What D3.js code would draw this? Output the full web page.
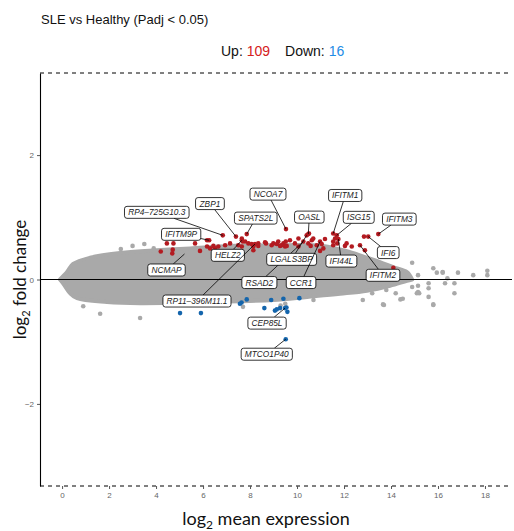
<!DOCTYPE html>
<meta charset="UTF-8">
<style>
    body { margin: 0; background: #fff; }
    svg text { font-family: "Liberation Sans", Arial, sans-serif; }
    .axis-title { font-family: Lato, "Open Sans", sans-serif; font-size: 17px; fill: #111; }
    .tick text { font-size: 8px; fill: #666; }
    .tick line { stroke: #555; }
    .lab text { font-size: 8.3px; font-style: italic; fill: #222; }
</style>
<body>
<div id="chart"></div>
<script src="https://d3js.org/d3.v7.min.js"></script>
<script>

// ---- data (log2 mean expression, log2 fold change) ----
var upGenes = [
    [4.20,0.45],[4.46,0.58],[4.71,0.48],[4.69,0.42],[4.74,0.58],[5.66,0.58],[5.87,0.46],
    [6.17,0.63],[6.17,0.53],[6.30,0.50],[6.51,0.50],[6.65,0.53],[6.94,0.55],[7.15,0.58],
    [7.65,0.66],[7.69,0.61],[7.50,0.55],[7.93,0.58],[7.65,0.53],[8.14,0.53],[8.35,0.58],
    [8.14,0.47],[8.68,0.58],[8.99,0.58],[9.20,0.61],[9.42,0.58],[9.70,0.63],[9.91,0.58],
    [10.06,0.66],[10.51,0.74],[8.92,0.55],[9.35,0.55],[9.49,0.53],[10.48,0.58],[10.63,0.63],
    [10.69,0.66],[10.58,0.54],[10.06,0.53],[10.84,0.55],[11.05,0.57],[11.19,0.65],[11.12,0.50],
    [10.98,0.46],[11.62,0.66],[11.71,0.58],[11.54,0.55],[12.11,0.58],[12.33,0.53],[12.89,0.47],
    [12.85,0.69],[14.10,0.19],[6.44,0.54],[7.79,0.61],[8.07,0.57],[8.35,0.54],[9.14,0.57],
    [9.28,0.54],[9.52,0.61],[9.56,0.54],[12.04,0.54],[8.64,0.60],[11.54,0.61]
];

var downGenes = [
    [5.02,-0.54],[5.91,-0.54],[7.64,-0.37],[7.86,-0.32],[7.57,-0.39],[8.61,-0.46],[9.06,-0.50],
    [9.14,-0.48],[9.28,-0.46],[9.55,-0.45],[9.59,-0.52],[10.10,-0.30],[9.42,-0.31],[8.90,-0.33]
];

// non-significant genes: dense cloud outline + scattered points
var cloudTop = [
    [-0.09,0],[0.21,0.12],[0.47,0.25],[1.19,0.35],[2.6,0.43],[4.04,0.47],[5.45,0.50],[7.15,0.54],
    [8.98,0.55],[11.1,0.54],[12.26,0.44],[12.98,0.35],[13.53,0.28],[14.09,0.20],[14.68,0.12],[14.9,0]
];
var cloudBottom = [
    [-0.09,0],[0.04,-0.06],[0.34,-0.22],[0.64,-0.30],[1.91,-0.36],[3.32,-0.38],[6.17,-0.36],
    [8.98,-0.33],[10.43,-0.28],[11.83,-0.23],[12.98,-0.18],[13.96,-0.10],[14.68,-0.02],[14.9,0]
];
var otherGenes = [
    [1.62,-0.55],[3.32,-0.62],[10.7,-0.33],[13.66,-0.40],[14.4,-0.32],[15.2,-0.22],[15.8,-0.40],
    [16.7,-0.22],[16.7,-0.06],[16.2,0.12],[17.5,0.07],[18.1,0.07],[15.15,0.07],[15.6,-0.06],
    [15.15,-0.10],[13.8,-0.17],[14.2,-0.22],[13.2,-0.22],[12.8,-0.33],[9.5,-0.39],[9.3,-0.42],
    [7.7,-0.44],[0.9,-0.43],[10.0,-0.28],[14.9,0.27],[15.8,0.18],[15.95,0.11],[16.2,0.11],
    [16.85,0.11],[18.1,0.14],[16.4,0.02],[16.3,-0.06],[15.6,-0.14],[15.6,-0.28],[15.15,-0.2],
    [14.9,-0.12],[14.5,-0.31],[13.7,-0.41],[15.8,-0.41],[15.1,-0.22],[3.5,0.57],[3.0,0.54],
    [3.9,0.50],[2.5,0.49]
];

// labelled genes
var labelNames = ["RP4–725G10.3","ZBP1","NCOA7","SPATS2L","IFITM9P","HELZ2","NCMAP","RP11–396M11.1",
    "RSAD2","LGALS3BP","OASL","CCR1","IFITM1","ISG15","IFITM3","IFI44L","IFI6","IFITM2","CEP85L","MTCO1P40"];
var labelX = [6.84,7.40,9.53,7.86,6.26,7.65,5.21,8.21,10.27,10.41,10.48,10.98,11.54,11.69,13.46,11.76,13.03,12.68,9.49,9.52];
var labelY = [0.71,0.69,0.81,0.73,0.63,0.63,0.41,0.57,0.61,0.71,0.73,0.61,0.74,0.71,0.73,0.65,0.69,0.55,-0.46,-0.96];
var labelGroup = ["up","up","up","up","up","up","ns","up","up","up","up","up","up","up","up","up","up","up","down","down"];

var nUp = 109, nDown = 16;
var xTicks = [0, 2, 4, 6, 8, 10, 12, 14, 16, 18];
var yTicks = [-2, 0, 2];

// ---- layout (label box offsets from their point, in px) ----
var labelNudge = {
    "RP4–725G10.3": [-66, -23], "ZBP1": [-26, -33], "NCOA7": [-18, -35], "SPATS2L": [9, -16],
    "IFITM9P": [-28, -6], "HELZ2": [-14, 15], "NCMAP": [-18, 16], "RP11–396M11.1": [-58, 57],
    "RSAD2": [-44, 41], "LGALS3BP": [-15, 24], "OASL": [1, -17], "CCR1": [-19, 41],
    "IFITM1": [12, -38], "ISG15": [22, -18], "IFITM3": [21, -15], "IFI44L": [3, 22],
    "IFI6": [20, 16], "IFITM2": [23, 30], "CEP85L": [-18, 15], "MTCO1P40": [-19, 15]
};

var colors = { up: "#b31b21", down: "#1465ac", ns: "#a9a9a9" };

var W = 514, H = 531;
var svg = d3.select("#chart").append("svg")
    .attr("width", W)
    .attr("height", H);

var x = d3.scaleLinear().domain([-0.94, 19.15]).range([40, 512]);
var y = d3.scaleLinear().domain([-3.32, 3.32]).range([486, 73]);

// title + subtitle
svg.append("text")
    .attr("x", 41).attr("y", 24)
    .style("font-size", "13px").style("fill", "#111")
    .text("SLE vs Healthy (Padj < 0.05)");

var sub = svg.append("text")
    .attr("x", 221).attr("y", 56)
    .style("font-size", "14px").style("fill", "#111");
sub.append("tspan").text("Up: ");
sub.append("tspan").style("fill", "#d42020").text(nUp);
sub.append("tspan").attr("dx", 15).text("Down: ");
sub.append("tspan").style("fill", "#1e8ce6").text(nDown);

// non-significant cloud
var cloud = cloudTop.concat(cloudBottom.slice().reverse());
svg.append("path")
    .datum(cloud)
    .attr("d", d3.line().x(function(d) { return x(d[0]); }).y(function(d) { return y(d[1]); })
        .curve(d3.curveCatmullRomClosed))
    .attr("fill", colors.ns)
    .attr("stroke", colors.ns)
    .attr("stroke-width", 4)
    .attr("stroke-linejoin", "round");

function dots(data, col) {
    svg.append("g").selectAll("circle")
        .data(data)
        .enter().append("circle")
        .attr("cx", function(d) { return x(d[0]); })
        .attr("cy", function(d) { return y(d[1]); })
        .attr("r", 2.3)
        .attr("fill", col);
}
dots(otherGenes, colors.ns);

var labelled = labelNames.map(function(n, i) {
    return { name: n, x: labelX[i], y: labelY[i], group: labelGroup[i] };
});
dots(labelled.filter(function(d) { return d.group === "ns"; }).map(function(d) { return [d.x, d.y]; }), colors.ns);

// zero line
svg.append("line")
    .attr("x1", 40).attr("x2", 512)
    .attr("y1", y(0)).attr("y2", y(0))
    .attr("stroke", "#000").attr("stroke-width", 1);

dots(upGenes.concat(labelled.filter(function(d) { return d.group === "up"; }).map(function(d) { return [d.x, d.y]; })), colors.up);
dots(downGenes.concat(labelled.filter(function(d) { return d.group === "down"; }).map(function(d) { return [d.x, d.y]; })), colors.down);

// dashed limits top/bottom
[y.domain()[1], y.domain()[0]].forEach(function(v) {
    svg.append("line")
        .attr("x1", 40).attr("x2", 512)
        .attr("y1", y(v)).attr("y2", y(v))
        .attr("stroke", "#000").attr("stroke-width", 1)
        .attr("stroke-dasharray", "4,4");
});

// axes
var yAxis = svg.append("g")
    .attr("transform", "translate(40,0)")
    .call(d3.axisLeft(y).tickValues(yTicks).tickSize(3).tickSizeOuter(0).tickFormat(d3.format("d")));
yAxis.select(".domain").attr("stroke", "#000").attr("stroke-width", 1.1);
yAxis.selectAll(".tick text").attr("x", -6);

var xAxis = svg.append("g")
    .attr("transform", "translate(0,486)")
    .call(d3.axisBottom(x).tickValues(xTicks).tickSize(3).tickSizeOuter(0));
xAxis.select(".domain").remove();
xAxis.selectAll(".tick text").attr("y", 6);

// axis titles
var xt = svg.append("text").attr("class", "axis-title")
    .attr("x", 266).attr("y", 525).attr("text-anchor", "middle")
    .style("font-size", "18px");
xt.append("tspan").text("log");
xt.append("tspan").attr("dy", 4).style("font-size", "12px").text("2");
xt.append("tspan").attr("dy", -4).text(" mean expression");

var yt = svg.append("text").attr("class", "axis-title")
    .attr("transform", "translate(26,279.5) rotate(-90)").attr("text-anchor", "middle");
yt.append("tspan").text("log");
yt.append("tspan").attr("dy", 4).style("font-size", "11px").text("2");
yt.append("tspan").attr("dy", -4).text(" fold change");

// labels with leader lines
var labG = svg.append("g").attr("class", "lab");
labelled.forEach(function(d) {
    var px = x(d.x), py = y(d.y);
    var nud = labelNudge[d.name];
    var cx = px + nud[0], cy = py + nud[1];
    var g = labG.append("g");
    var t = g.append("text")
        .attr("x", cx).attr("y", cy + 3)
        .attr("text-anchor", "middle")
        .text(d.name);
    var bb = t.node().getBBox();
    var bw = bb.width + 7, bh = 12;
    // segment from box edge to point
    var dx = px - cx, dy = py - cy;
    var s = Math.min(dx !== 0 ? (bw / 2) / Math.abs(dx) : Infinity, dy !== 0 ? (bh / 2) / Math.abs(dy) : Infinity);
    if (s < 1) {
        g.insert("line", "text")
            .attr("x1", cx + dx * s).attr("y1", cy + dy * s)
            .attr("x2", px).attr("y2", py)
            .attr("stroke", "#000").attr("stroke-width", 0.8);
    }
    g.insert("rect", "text")
        .attr("x", cx - bw / 2).attr("y", cy - bh / 2)
        .attr("width", bw).attr("height", bh)
        .attr("rx", 2.5)
        .attr("fill", "#fff").attr("stroke", "#000").attr("stroke-width", 0.8);
});

</script>
</body>
